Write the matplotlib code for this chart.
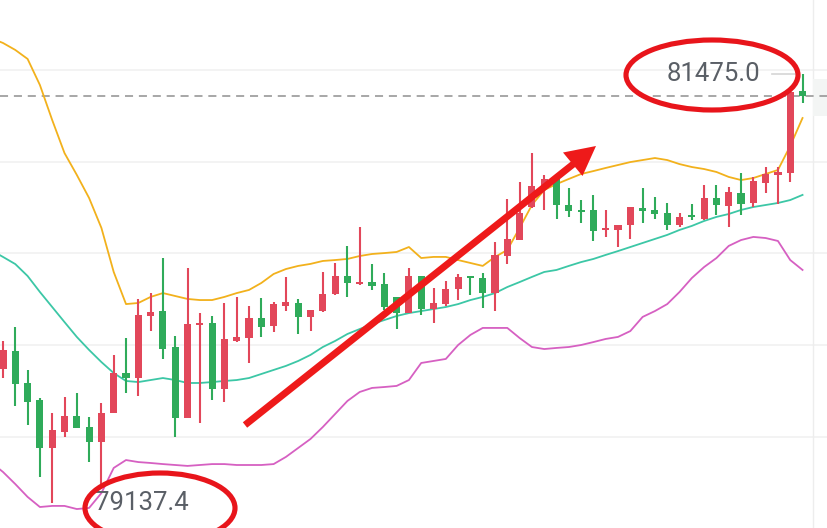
import matplotlib
matplotlib.use("Agg")
import matplotlib.pyplot as plt
from matplotlib.patches import Ellipse, Polygon, Rectangle
from matplotlib.lines import Line2D
import numpy as np

plt.rcParams['lines.scale_dashes'] = False

# ---- candle data (index 0..65) ----
opens = [79869, 79967, 79793, 79700, 79439, 79526, 79613, 79553, 79471, 79629,
         79847, 79820, 80158, 80185, 79989, 79602, 80109, 80120, 79760, 80022,
         80038, 80147, 80104, 80213, 80229, 80153, 80185, 80278, 80376, 80333,
         80343, 80333, 80262, 80174, 80376, 80196, 80224, 80305, 80371, 80365,
         80283, 80485, 80572, 80752, 80856, 80905, 80763, 80736, 80736, 80627,
         80627, 80654, 80747, 80736, 80719, 80654, 80703, 80687, 80801, 80758,
         80828, 80774, 80883, 80927, 80937, 81384]
closes = [79973, 79788, 79689, 79439, 79537, 79613, 79548, 79471, 79629, 79847,
          79820, 80164, 80180, 79978, 79602, 80115, 80120, 79760, 80033, 80044,
          80147, 80098, 80224, 80234, 80153, 80191, 80278, 80376, 80338, 80343,
          80322, 80207, 80174, 80376, 80196, 80229, 80305, 80371, 80365, 80283,
          80491, 80578, 80719, 80867, 80905, 80763, 80730, 80725, 80621, 80638,
          80654, 80752, 80730, 80714, 80654, 80698, 80698, 80801, 80763, 80834,
          80769, 80894, 80932, 80943, 81379, 81357]
highs = [80022, 80098, 79864, 79711, 79629, 79717, 79738, 79608, 79684, 79946,
         80038, 80251, 80283, 80474, 80049, 80420, 80174, 80158, 80229, 80262,
         80213, 80256, 80234, 80371, 80251, 80191, 80398, 80447, 80540, 80643,
         80442, 80392, 80262, 80420, 80376, 80311, 80349, 80387, 80376, 80392,
         80561, 80796, 80888, 81046, 80927, 80905, 80856, 80790, 80818, 80736,
         80654, 80752, 80856, 80807, 80774, 80719, 80769, 80872, 80872, 80861,
         80937, 80916, 80970, 80970, 81379, 81475.0]
lows = [79820, 79668, 79564, 79281, 79137.4, 79499, 79548, 79362, 79226, 79629,
        79738, 79722, 80076, 79924, 79499, 79602, 79575, 79700, 79689, 80016,
        79902, 80044, 80071, 80185, 80060, 80076, 80180, 80273, 80262, 80327,
        80300, 80191, 80087, 80174, 80164, 80120, 80213, 80245, 80273, 80202,
        80185, 80442, 80572, 80747, 80736, 80687, 80698, 80665, 80567, 80589,
        80534, 80578, 80665, 80687, 80627, 80643, 80681, 80681, 80709, 80643,
        80709, 80752, 80828, 80769, 80888, 81319]

# ---- Bollinger bands (index -1..65) ----
upper = [81673, 81646, 81608, 81559, 81417, 81226, 81046, 80927, 80801, 80638,
         80398, 80223, 80229, 80262, 80283, 80267, 80251, 80245, 80245, 80262,
         80283, 80300, 80338, 80387, 80414, 80431, 80442, 80458, 80463, 80469,
         80485, 80496, 80501, 80507, 80534, 80474, 80480, 80480, 80463, 80447,
         80431, 80480, 80518, 80638, 80763, 80845, 80877, 80905, 80932, 80948,
         80965, 80981, 80997, 81008, 81019, 81008, 80986, 80970, 80959, 80943,
         80916, 80899, 80910, 80932, 80954, 81085, 81237]
middle = [80518, 80480, 80441, 80376, 80289, 80207, 80125, 80044, 79973, 79907,
          79847, 79804, 79798, 79809, 79820, 79809, 79793, 79793, 79798, 79804,
          79809, 79820, 79842, 79864, 79886, 79913, 79946, 79989, 80022, 80060,
          80087, 80114, 80136, 80158, 80174, 80185, 80196, 80207, 80223, 80245,
          80262, 80283, 80316, 80343, 80371, 80398, 80409, 80431, 80452, 80469,
          80491, 80512, 80534, 80556, 80578, 80600, 80627, 80649, 80676, 80698,
          80714, 80736, 80752, 80763, 80774, 80790, 80818]
lower = [79362, 79308, 79242, 79172, 79117, 79123, 79123, 79106, 79112, 79193,
         79330, 79373, 79362, 79357, 79351, 79346, 79341, 79346, 79351, 79351,
         79346, 79346, 79346, 79351, 79390, 79439, 79488, 79553, 79624, 79695,
         79744, 79766, 79771, 79777, 79809, 79902, 79913, 79924, 80000, 80055,
         80093, 80093, 80093, 80038, 79989, 79978, 79984, 79989, 80000, 80016,
         80033, 80044, 80076, 80153, 80185, 80223, 80289, 80365, 80425, 80474,
         80540, 80572, 80589, 80583, 80567, 80463, 80409]

grid_levels = [79500, 80000, 80500, 81000, 81500]

RED = '#E2475A'
GREEN = '#2FAB5A'
ANNOT = '#E8151B'

fig = plt.figure(figsize=(8.28, 5.28), dpi=100)
ax = fig.add_axes([0, 0, 1, 1])
ax.set_facecolor('white')
n = len(opens)
x = np.arange(n)
xb = np.arange(-1, n)
ax.set_xlim(-0.244, 67.07)
ax.set_ylim(79002.65, 81880.25)
for s in ax.spines.values():
    s.set_visible(False)
ax.set_xticks([])
ax.set_yticks([])

for g in grid_levels:
    ax.axhline(g, color='#F0F0F0', lw=1.1, zorder=0)

# right price-scale edge
ax.axvline(65.85, color='#EDEDED', lw=1, zorder=0)
ax.add_patch(Rectangle((65.85, 81250), 2, 200, color='#F3F5F4', lw=0, zorder=0))

# last price dashed line
ax.axhline(closes[-1], color='#8F8F8F', lw=1.1, ls=(0, (5.8, 4.2)), zorder=1)

ax.plot(xb, upper, color='#F2B11C', lw=1.3, zorder=2)
ax.plot(xb, middle, color='#3CC7A6', lw=1.3, zorder=2)
ax.plot(xb, lower, color='#D660C2', lw=1.3, zorder=2)

o = np.array(opens, float)
c = np.array(closes, float)
colors = [RED if cc >= oo else GREEN for oo, cc in zip(o, c)]
ax.vlines(x, lows, highs, colors=colors, lw=1.5, zorder=3)
h = np.maximum(np.abs(c - o), 11)
bottoms = (o + c) / 2 - h / 2
ax.bar(x, h, width=0.58, bottom=bottoms, color=colors, zorder=4, linewidth=0)

# high / low labels
ihi = int(np.argmax(highs))
ilo = int(np.argmin(lows))
hi = max(highs)
lo = min(lows)
ax.plot([ihi - 2.45, ihi - 0.6], [hi, hi], color='#D5D5D5', lw=1.2, zorder=5)
ax.text(ihi - 3.45, hi, f"{hi:.1f}", ha='right', va='center', fontsize=18.5,
        family='Roboto', color='#5A5F66', zorder=6)
ax.text(ilo + 3.5, lo, f"{lo:.1f}", ha='left', va='center', fontsize=18.5,
        family='Roboto', color='#5A5F66', zorder=6)

# annotations (figure-pixel based)
W, H = 828.0, 528.0
def fx(px):
    return px / W
def fy(py):
    return 1 - py / H

ax.add_patch(Ellipse((fx(712), fy(75)), 172 / W, 70 / H, transform=ax.transAxes,
                     fill=False, ec=ANNOT, lw=3.7, zorder=7))
ax.add_patch(Ellipse((fx(160), fy(508)), 150 / W, 70 / H, transform=ax.transAxes,
                     fill=False, ec=ANNOT, lw=3.7, zorder=7))

ARROW = '#EE1A1A'
ax.add_line(Line2D([fx(245), fx(574)], [fy(425), fy(163.5)], transform=ax.transAxes,
                   color=ARROW, lw=5.0, solid_capstyle='butt', zorder=8))
ax.add_patch(Polygon([(fx(596), fy(146)), (fx(563), fy(152.5)), (fx(582.5), fy(176))],
                     closed=True, transform=ax.transAxes, color=ARROW, lw=0, zorder=8))

fig.savefig('out.png', dpi=100, facecolor='white')
